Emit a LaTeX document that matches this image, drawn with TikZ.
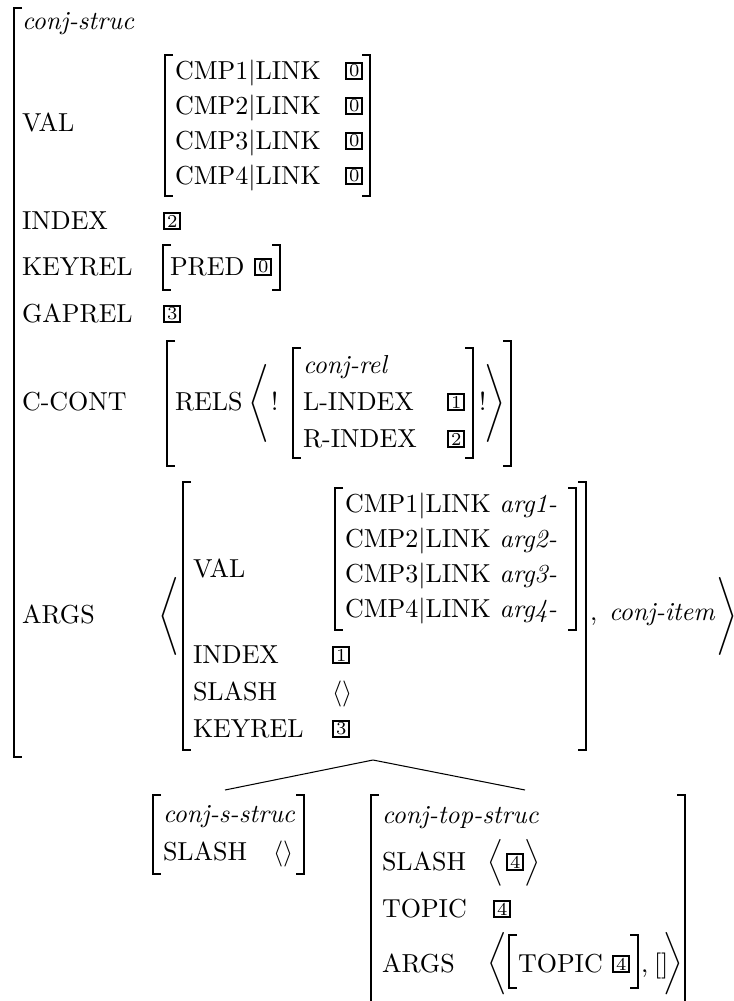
\documentclass[tikz,border=0pt]{standalone}
\tikzset{
  txt/.style={anchor=base west, inner sep=0pt, outer sep=0pt},
  numbox/.style={draw, line width=0.8pt, minimum width=6.3pt, minimum height=6.3pt, inner sep=0pt, anchor=west, font=\scriptsize},
  brk/.style={line width=0.65pt},
  angl/.style={inner sep=0pt, outer sep=0pt, anchor=center},
  branch/.style={line width=0.4pt}
}
\newcommand\avmT[4]{\node[txt] (#1) at (#2,#3) {#4};}
\newcommand\avmB[4]{\node[numbox] (#1) at (#2,#3-8) {#4};}
\newcommand\avmL[3]{\draw[brk] (#1+8,#2) -- (#1,#2) -- (#1,#3) -- (#1+8,#3);}
\newcommand\avmR[3]{\draw[brk] (#1-8,#2) -- (#1,#2) -- (#1,#3) -- (#1-8,#3);}
\newcommand\avmA[4]{\node[angl] (#1) at (#2,#3) {#4};}
\begin{document}
\begin{tikzpicture}[x=0.38462pt, y=-0.38462pt]
\useasboundingbox (0,0) rectangle (734,1001);
% ---------- top AVM ----------
\avmL{14}{8}{757}
\avmT{conjstruc}{22}{29}{\textit{conj-struc}}
\avmT{val}{22}{131}{VAL}
\avmL{165}{55}{196}
\avmR{370}{55}{196}
\avmT{cmpa}{175}{79}{CMP1$|$LINK}
\avmB{ba}{345}{79}{0}
\avmT{cmpb}{175}{114}{CMP2$|$LINK}
\avmB{bb}{345}{114}{0}
\avmT{cmpc}{175}{149}{CMP3$|$LINK}
\avmB{bc}{345}{149}{0}
\avmT{cmpd}{175}{184}{CMP4$|$LINK}
\avmB{bd}{345}{184}{0}
\avmT{index}{22}{229}{INDEX}
\avmB{bindex}{163}{229}{2}
\avmT{keyrel}{22}{275}{KEYREL}
\avmL{163}{245}{290}
\avmT{pred}{170}{275}{PRED}
\avmB{bpred}{254}{275}{0}
\avmR{280}{245}{290}
\avmT{gaprel}{22}{322}{GAPREL}
\avmB{bgaprel}{163}{322}{3}
\avmT{ccont}{22}{410}{C-CONT}
\avmL{167}{341}{466}
\avmR{511}{341}{466}
\avmT{rels}{175}{410}{RELS}
\avmA{relsl}{259}{403.5}{$\Bigg\langle$}
\avmT{excla}{271}{410}{!}
\avmL{293}{348}{458}
\avmT{conjrel}{303}{373}{\textit{conj-rel}}
\avmT{lindex}{303}{410}{L-INDEX}
\avmB{blindex}{447}{410}{1}
\avmT{rindex}{303}{447}{R-INDEX}
\avmB{brindex}{447}{447}{2}
\avmR{473}{348}{458}
\avmT{exclb}{479}{410}{!}
\avmA{relsr}{495}{403.5}{$\Bigg\rangle$}
\avmT{args}{22}{623}{ARGS}
\avmA{argsl}{169}{616.5}{$\Bigg\langle$}
\avmL{183}{482}{750}
\avmR{586}{482}{750}
\avmT{valb}{193}{577}{VAL}
\avmL{335}{488}{630}
\avmR{576}{488}{630}
\avmT{arga}{345}{512}{CMP1$|$LINK \textit{arg1-}}
\avmT{argb}{345}{547}{CMP2$|$LINK \textit{arg2-}}
\avmT{argc}{345}{582}{CMP3$|$LINK \textit{arg3-}}
\avmT{argd}{345}{617}{CMP4$|$LINK \textit{arg4-}}
\avmT{indexb}{193}{663}{INDEX}
\avmB{bindexb}{332}{663}{1}
\avmT{slashb}{193}{700}{SLASH}
\avmT{slashbv}{332}{700}{$\langle\rangle$}
\avmT{keyrelb}{193}{737}{KEYREL}
\avmB{bkeyrelb}{332}{737}{3}
\avmT{comma}{590}{620}{,}
\avmT{conjitem}{609}{620}{\textit{conj-item}}
\avmA{argsr}{727}{616.5}{$\Bigg\rangle$}
% ---------- tree ----------
\coordinate (apex) at (373,760);
\coordinate (dl) at (225,790);
\coordinate (dr) at (525,790);
\draw[branch] (apex) -- (dl);
\draw[branch] (apex) -- (dr);
% ---------- left daughter ----------
\avmL{153}{795}{874}
\avmR{304}{795}{874}
\avmT{conjsstruc}{163}{822}{\textit{conj-s-struc}}
\avmT{slashc}{163}{860}{SLASH}
\avmT{slashcv}{273}{860}{$\langle\rangle$}
% ---------- right daughter ----------
\draw[brk] (379,795) -- (371,795) -- (371,1001);
\draw[brk] (677,795) -- (685,795) -- (685,1001);
\avmT{conjtopstruc}{382}{823}{\textit{conj-top-struc}}
\avmT{slashd}{382}{870}{SLASH}
\avmA{slashdl}{495}{862.5}{$\Big\langle$}
\avmB{bslashd}{506}{870}{4}
\avmA{slashdr}{532}{862.5}{$\Big\rangle$}
\avmT{topic}{382}{917}{TOPIC}
\avmB{btopic}{493}{917}{4}
\avmT{argsd}{382}{972}{ARGS}
\avmA{argsdl}{497}{963.5}{$\bigg\langle$}
\avmL{509}{935}{988}
\avmT{topicd}{518}{972}{TOPIC}
\avmB{btopicd}{612}{972}{4}
\avmR{638}{935}{988}
\avmT{commad}{641}{972}{,}
\avmT{emptyd}{654}{972}{[]}
\avmA{argsdr}{673}{963.5}{$\bigg\rangle$}
\end{tikzpicture}
\end{document}
